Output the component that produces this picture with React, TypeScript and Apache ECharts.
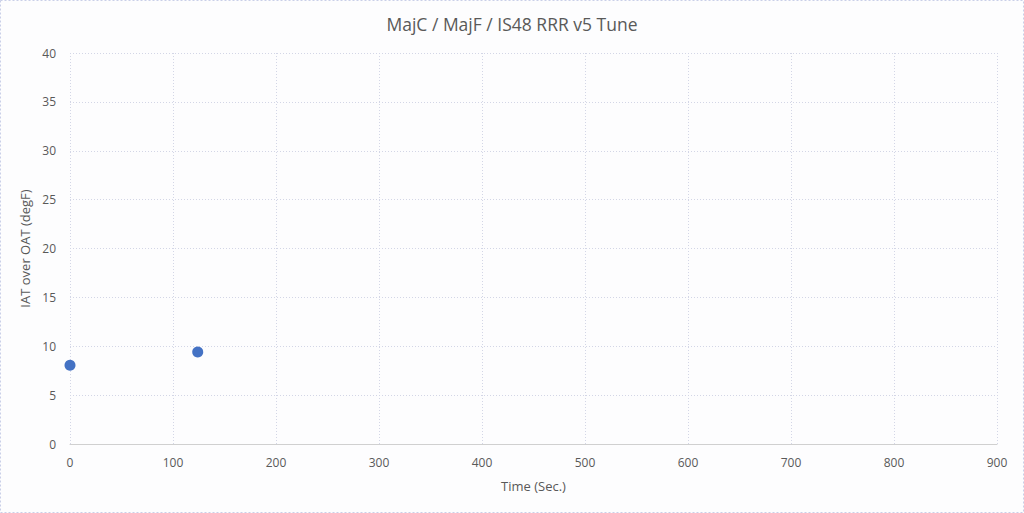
import React, { useEffect, useRef } from "react";
import * as echarts from "echarts";

const timeSec = [0, 124];
const iatOverOat = [8.06, 9.42];
const xTicks = [0, 100, 200, 300, 400, 500, 600, 700, 800, 900];
const yTicks = [0, 5, 10, 15, 20, 25, 30, 35, 40];

const FONT = "'Open Sans', 'Noto Sans', sans-serif";
const TXT = "#595959";

export default function App() {
  const ref = useRef<HTMLDivElement>(null);
  useEffect(() => {
    if (!ref.current) return;
    const chart = echarts.init(ref.current, null, { renderer: "svg" });
    const data = timeSec.map((t, i) => [t, iatOverOat[i]]);
    chart.setOption({
      animation: false,
      backgroundColor: "#fdfdfe",
      title: {
        text: "MajC / MajF / IS48 RRR v5 Tune",
        left: "center",
        top: 10,
        textStyle: { fontFamily: FONT, fontSize: 17.5, fontWeight: "normal", color: TXT },
      },
      graphic: [
        {
          type: "rect",
          shape: { x: 0.5, y: 0.5, width: 1023, height: 512 },
          style: { fill: "none", stroke: "#c9cfe8", lineWidth: 1, lineDash: [2, 2] },
          silent: true,
        },
      ],
      grid: { left: 70, right: 27, top: 53, bottom: 69, containLabel: false },
      xAxis: {
        type: "value",
        min: xTicks[0],
        max: xTicks[xTicks.length - 1],
        interval: 100,
        name: "Time (Sec.)",
        nameLocation: "middle",
        nameGap: 35,
        nameTextStyle: { fontFamily: FONT, fontSize: 13, color: TXT },
        axisLine: { show: true, lineStyle: { color: "#d0d0d0", width: 1 } },
        axisTick: { show: false },
        axisLabel: { fontFamily: FONT, fontSize: 12, color: TXT, margin: 12 },
        splitLine: { show: true, lineStyle: { color: "#d3d6e6", type: [1, 2], width: 1 } },
      },
      yAxis: {
        type: "value",
        min: yTicks[0],
        max: yTicks[yTicks.length - 1],
        interval: 5,
        name: "IAT over OAT (degF)",
        nameLocation: "middle",
        nameGap: 35,
        nameRotate: 90,
        nameTextStyle: { fontFamily: FONT, fontSize: 13, color: TXT },
        axisLine: { show: false },
        axisTick: { show: false },
        axisLabel: { fontFamily: FONT, fontSize: 12, color: TXT, margin: 14 },
        splitLine: { show: true, lineStyle: { color: "#d3d6e6", type: [1, 2], width: 1 } },
      },
      series: [
        {
          type: "scatter",
          data,
          symbol: "circle",
          symbolSize: 11,
          itemStyle: { color: "#4472c4", opacity: 1 },
        },
      ],
    });
    return () => chart.dispose();
  }, []);
  return (
    <div
      ref={ref}
      style={{ position: "absolute", left: 0, top: 0, width: 1024, height: 513 }}
    />
  );
}
